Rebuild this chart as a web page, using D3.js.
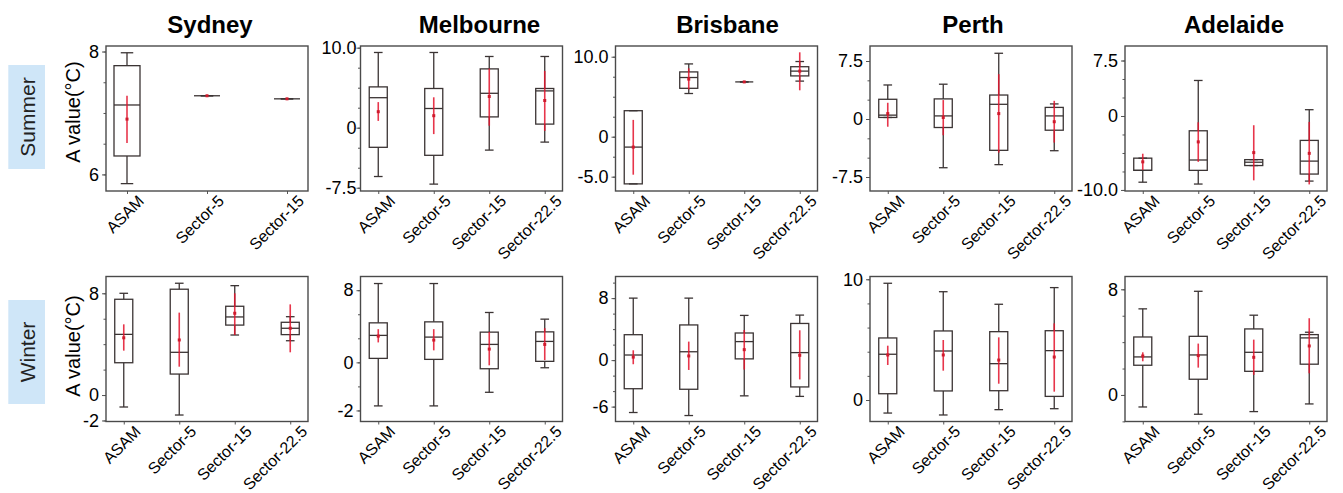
<!DOCTYPE html>
<html><head><meta charset="utf-8">
<script src="https://cdn.jsdelivr.net/npm/d3@7"></script>
<style>body{margin:0;background:#fff} svg{display:block}</style>
</head><body><svg id="c" width="1343" height="493"></svg>
<script>
// ---------- DATA ----------
const cities = ["Sydney", "Melbourne", "Brisbane", "Perth", "Adelaide"];
const seasons = ["Summer", "Winter"];
const yAxisLabel = "A value(°C)";
const categories = ["ASAM", "Sector-5", "Sector-15", "Sector-22.5"];
const categoriesSydneySummer = ["ASAM", "Sector-5", "Sector-15"];

// box stats per category: [whiskerLow, q1, median, q3, whiskerHigh]
// mean stats per category: [mean, low, high]
const sydneySummerBox = [[5.85, 6.30, 7.13, 7.77, 7.98], [7.28, 7.28, 7.28, 7.28, 7.28], [7.23, 7.23, 7.23, 7.23, 7.23]];
const sydneySummerMean = [[6.90, 6.51, 7.28], [7.28, 7.28, 7.28], [7.23, 7.23, 7.23]];
const melbourneSummerBox = [[-6.1, -2.45, 3.75, 5.1, 9.4], [-7.05, -3.45, 2.4, 4.9, 9.4], [-2.8, 1.35, 4.3, 7.35, 8.9], [-1.8, 0.45, 4.6, 4.9, 8.9]];
const melbourneSummerMean = [[2.0, 0.85, 3.2], [1.5, -0.8, 3.8], [3.9, 0.25, 7.4], [3.4, -0.4, 7.1]];
const brisbaneSummerBox = [[-5.9, -5.9, -1.3, 3.25, 3.25], [5.4, 6.05, 7.4, 8.1, 9.1], [6.85, 6.85, 6.85, 6.85, 6.85], [6.95, 7.6, 8.2, 8.75, 9.4]];
const brisbaneSummerMean = [[-1.3, -4.75, 2.1], [7.2, 5.9, 8.55], [6.85, 6.85, 6.85], [8.2, 5.8, 10.55]];
const perthSummerBox = [[0.2, 0.2, 0.5, 2.55, 4.4], [-6.3, -1.1, 0.4, 2.6, 4.5], [-5.9, -4.05, 1.9, 3.1, 8.5], [-4.1, -1.45, 0.4, 1.5, 1.95]];
const perthSummerMean = [[0.7, -1.0, 2.1], [0.2, -2.1, 2.45], [0.7, -4.35, 5.8], [-0.35, -3.05, 2.35]];
const adelaideSummerBox = [[-8.95, -7.35, -7.35, -5.7, -5.7], [-9.2, -7.35, -5.95, -2.0, 4.8], [-6.7, -6.7, -6.25, -5.9, -5.9], [-8.8, -7.85, -6.1, -3.3, 0.85]];
const adelaideSummerMean = [[-6.2, -7.3, -5.1], [-3.5, -6.2, -0.85], [-4.95, -8.7, -1.25], [-5.05, -9.25, -0.8]];

const sydneyWinterBox = [[-0.94, 2.54, 4.77, 7.53, 8.0], [-1.57, 1.65, 3.36, 8.32, 8.79], [4.72, 5.5, 6.14, 6.98, 8.6], [4.27, 4.75, 5.25, 5.72, 6.16]];
const sydneyWinterMean = [[4.5, 3.49, 5.56], [4.33, 2.23, 6.48], [6.43, 4.72, 8.0], [5.25, 3.36, 7.13]];
const melbourneWinterBox = [[-4.83, 0.44, 2.99, 4.38, 8.74], [-4.83, 0.33, 2.8, 4.49, 8.74], [-3.32, -0.71, 1.99, 3.35, 5.53], [-0.6, 0.11, 2.32, 3.38, 4.79]];
const melbourneWinterMean = [[2.91, 2.21, 3.68], [2.47, 1.33, 3.68], [1.47, -0.33, 3.38], [1.99, 0.25, 3.79]];
const brisbaneWinterBox = [[-6.76, -3.69, 0.66, 3.28, 8.0], [-7.15, -3.76, 1.08, 4.54, 8.0], [-4.61, 0.16, 2.39, 3.5, 5.77], [-4.68, -3.46, 0.97, 4.73, 5.81]];
const brisbaneWinterMean = [[0.39, -0.53, 1.27], [0.54, -1.27, 2.39], [1.35, -1.22, 3.89], [0.62, -2.49, 3.85]];
const perthWinterBox = [[-1.08, 0.52, 3.79, 5.14, 9.67], [-1.24, 0.75, 4.06, 5.72, 8.97], [-0.8, 0.77, 3.01, 5.66, 7.93], [-0.72, 0.3, 4.09, 5.74, 9.31]];
const perthWinterMean = [[3.73, 2.9, 4.5], [3.73, 2.43, 4.97], [3.31, 1.35, 5.19], [3.56, 0.69, 6.35]];
const adelaideWinterBox = [[-0.91, 2.25, 2.88, 4.39, 6.52], [-1.46, 1.19, 3.03, 4.44, 7.85], [-1.26, 1.79, 3.23, 5.0, 6.04], [-0.68, 2.33, 4.32, 4.57, 4.75]];
const adelaideWinterMean = [[2.95, 2.55, 3.23], [2.98, 2.07, 3.89], [2.85, 1.52, 4.19], [3.71, 1.64, 5.81]];

// y domains, labelled tick values, tick labels, minor tick steps
const summerDomains = [[5.73, 8.09], [-7.91, 10.21], [-6.79, 11.34], [-9.31, 9.44], [-10.14, 9.46]];
const winterDomains = [[-2.08, 9.32], [-6.56, 9.52], [-7.92, 10.79], [-1.78, 10.23], [-2.01, 8.97]];
const summerTickValues = [[6, 8], [-7.5, 0, 10], [-5, 0, 10], [-7.5, 0, 7.5], [-10, 0, 7.5]];
const summerTickLabels = [["6", "8"], ["-7.5", "0", "10.0"], ["-5.0", "0", "10.0"], ["-7.5", "0", "7.5"], ["-10.0", "0", "7.5"]];
const winterTickValues = [[-2, 0, 8], [-16 / 3, 0, 8], [-6, 0, 8], [0, 10], [0, 8]];
const winterTickLabels = [["-2", "0", "8"], ["-2", "0", "8"], ["-6", "0", "8"], ["0", "10"], ["0", "8"]];
const summerMinorSteps = [0.5, 2.5, 2.5, 2.5, 2.5];
const winterMinorSteps = [2, 8 / 3, 2, 2, 2];

const summerBoxes = [sydneySummerBox, melbourneSummerBox, brisbaneSummerBox, perthSummerBox, adelaideSummerBox];
const summerMeans = [sydneySummerMean, melbourneSummerMean, brisbaneSummerMean, perthSummerMean, adelaideSummerMean];
const winterBoxes = [sydneyWinterBox, melbourneWinterBox, brisbaneWinterBox, perthWinterBox, adelaideWinterBox];
const winterMeans = [sydneyWinterMean, melbourneWinterMean, brisbaneWinterMean, perthWinterMean, adelaideWinterMean];

// ---------- LAYOUT ----------
const FONT = "'Liberation Sans', Arial, Helvetica, sans-serif";
const panelLefts = [106, 360.5, 615.5, 870, 1125];
const panelW = 202;
const rowTops = [46, 276.5];
const panelH = 145;
const titleOffsets = [3, 18, 11, 2, 8];
const BOX_STROKE = "#3b3434";
const RED = "#e3132b";

const svg = d3.select("#c");

// titles
cities.forEach((c, i) => {
  svg.append("text")
    .attr("x", panelLefts[i] + panelW / 2 + titleOffsets[i])
    .attr("y", 32.5)
    .attr("text-anchor", "middle")
    .attr("font-family", FONT).attr("font-weight", "bold").attr("font-size", 24)
    .attr("fill", "#000").text(c);
});

// row labels
const rowBoxY = [65, 300];
seasons.forEach((s, r) => {
  svg.append("rect").attr("x", 8.3).attr("y", rowBoxY[r]).attr("width", 36.7).attr("height", 104)
    .attr("fill", "#cfe6f8");
  svg.append("text")
    .attr("transform", `translate(27.5,${rowBoxY[r] + 52}) rotate(-90)`)
    .attr("text-anchor", "middle").attr("dominant-baseline", "central")
    .attr("font-family", FONT).attr("font-size", 21).attr("fill", "#222").text(s);
  svg.append("text")
    .attr("transform", `translate(72.5,${r === 0 ? 112 : 346}) rotate(-90)`)
    .attr("text-anchor", "middle").attr("dominant-baseline", "central")
    .attr("font-family", FONT).attr("font-size", 20).attr("fill", "#000").text(yAxisLabel);
});

function drawPanel(x0, y0, cats, boxes, means, domain, tickVals, tickLabs, minorStep, labelPad) {
  const g = svg.append("g").attr("transform", `translate(${x0},${y0})`);
  const y = d3.scaleLinear().domain(domain).range([panelH, 0]);
  const x = d3.scalePoint().domain(cats).range([0, panelW]).padding(cats.length === 3 ? 0.2625 : 0.32);
  const bw = x.step() * 0.325;
  const cw = bw * 0.48;

  // minor ticks
  const minor = [];
  const k0 = Math.ceil(domain[0] / minorStep - 1e-6), k1 = Math.floor(domain[1] / minorStep + 1e-6);
  for (let k = k0; k <= k1; k++) minor.push(k * minorStep);
  const minorAxis = g.append("g").call(d3.axisLeft(y).tickValues(minor).tickSize(2.5).tickFormat(""));
  minorAxis.select(".domain").remove();
  minorAxis.selectAll("line").attr("stroke", "#555");

  const yAxis = g.append("g").call(d3.axisLeft(y).tickValues(tickVals)
    .tickFormat((d, i) => tickLabs[i]).tickSize(4).tickPadding(labelPad));
  yAxis.select(".domain").remove();
  yAxis.selectAll("line").attr("stroke", "#555");
  yAxis.selectAll("text").attr("font-family", FONT).attr("font-size", 18).attr("fill", "#000");

  const xAxis = g.append("g").attr("transform", `translate(0,${panelH})`)
    .call(d3.axisBottom(x).tickSize(3).tickFormat(""));
  xAxis.select(".domain").remove();
  xAxis.selectAll("line").attr("stroke", "#555");

  // x labels
  cats.forEach(c => {
    g.append("text")
      .attr("transform", `translate(${x(c) + 18},${panelH + 11}) rotate(-45)`)
      .attr("text-anchor", "end")
      .attr("font-family", FONT).attr("font-size", 16).attr("fill", "#000").text(c);
  });

  // frame
  g.append("rect").attr("x", 0).attr("y", 0).attr("width", panelW).attr("height", panelH)
    .attr("fill", "none").attr("stroke", "#4a4a4a").attr("stroke-width", 1.4);

  cats.forEach((c, i) => {
    const [lo, q1, med, q3, hi] = boxes[i];
    const cx = x(c);
    const bg = g.append("g").attr("stroke", BOX_STROKE).attr("stroke-width", 1.3).attr("fill", "none");
    bg.append("line").attr("x1", cx).attr("x2", cx).attr("y1", y(hi)).attr("y2", y(q3));
    bg.append("line").attr("x1", cx).attr("x2", cx).attr("y1", y(q1)).attr("y2", y(lo));
    bg.append("line").attr("x1", cx - cw / 2).attr("x2", cx + cw / 2).attr("y1", y(hi)).attr("y2", y(hi));
    bg.append("line").attr("x1", cx - cw / 2).attr("x2", cx + cw / 2).attr("y1", y(lo)).attr("y2", y(lo));
    bg.append("rect").attr("x", cx - bw / 2).attr("width", bw)
      .attr("y", y(q3)).attr("height", Math.max(0, y(q1) - y(q3)));
    bg.append("line").attr("x1", cx - bw / 2).attr("x2", cx + bw / 2).attr("y1", y(med)).attr("y2", y(med));

    const [m, mlo, mhi] = means[i];
    g.append("line").attr("x1", cx).attr("x2", cx).attr("y1", y(mhi)).attr("y2", y(mlo))
      .attr("stroke", RED).attr("stroke-width", 1.6).attr("stroke-opacity", 0.85);
    g.append("rect").attr("x", cx - 1.5).attr("y", y(m) - 1.5).attr("width", 3).attr("height", 3)
      .attr("fill", "#cf1a2c");
  });
}

for (let i = 0; i < 5; i++) {
  drawPanel(panelLefts[i], rowTops[0], i === 0 ? categoriesSydneySummer : categories,
    summerBoxes[i], summerMeans[i], summerDomains[i], summerTickValues[i], summerTickLabels[i], summerMinorSteps[i],
    i === 1 ? 0 : 3);
  drawPanel(panelLefts[i], rowTops[1], categories,
    winterBoxes[i], winterMeans[i], winterDomains[i], winterTickValues[i], winterTickLabels[i], winterMinorSteps[i], 3);
}
</script>
</body></html>
